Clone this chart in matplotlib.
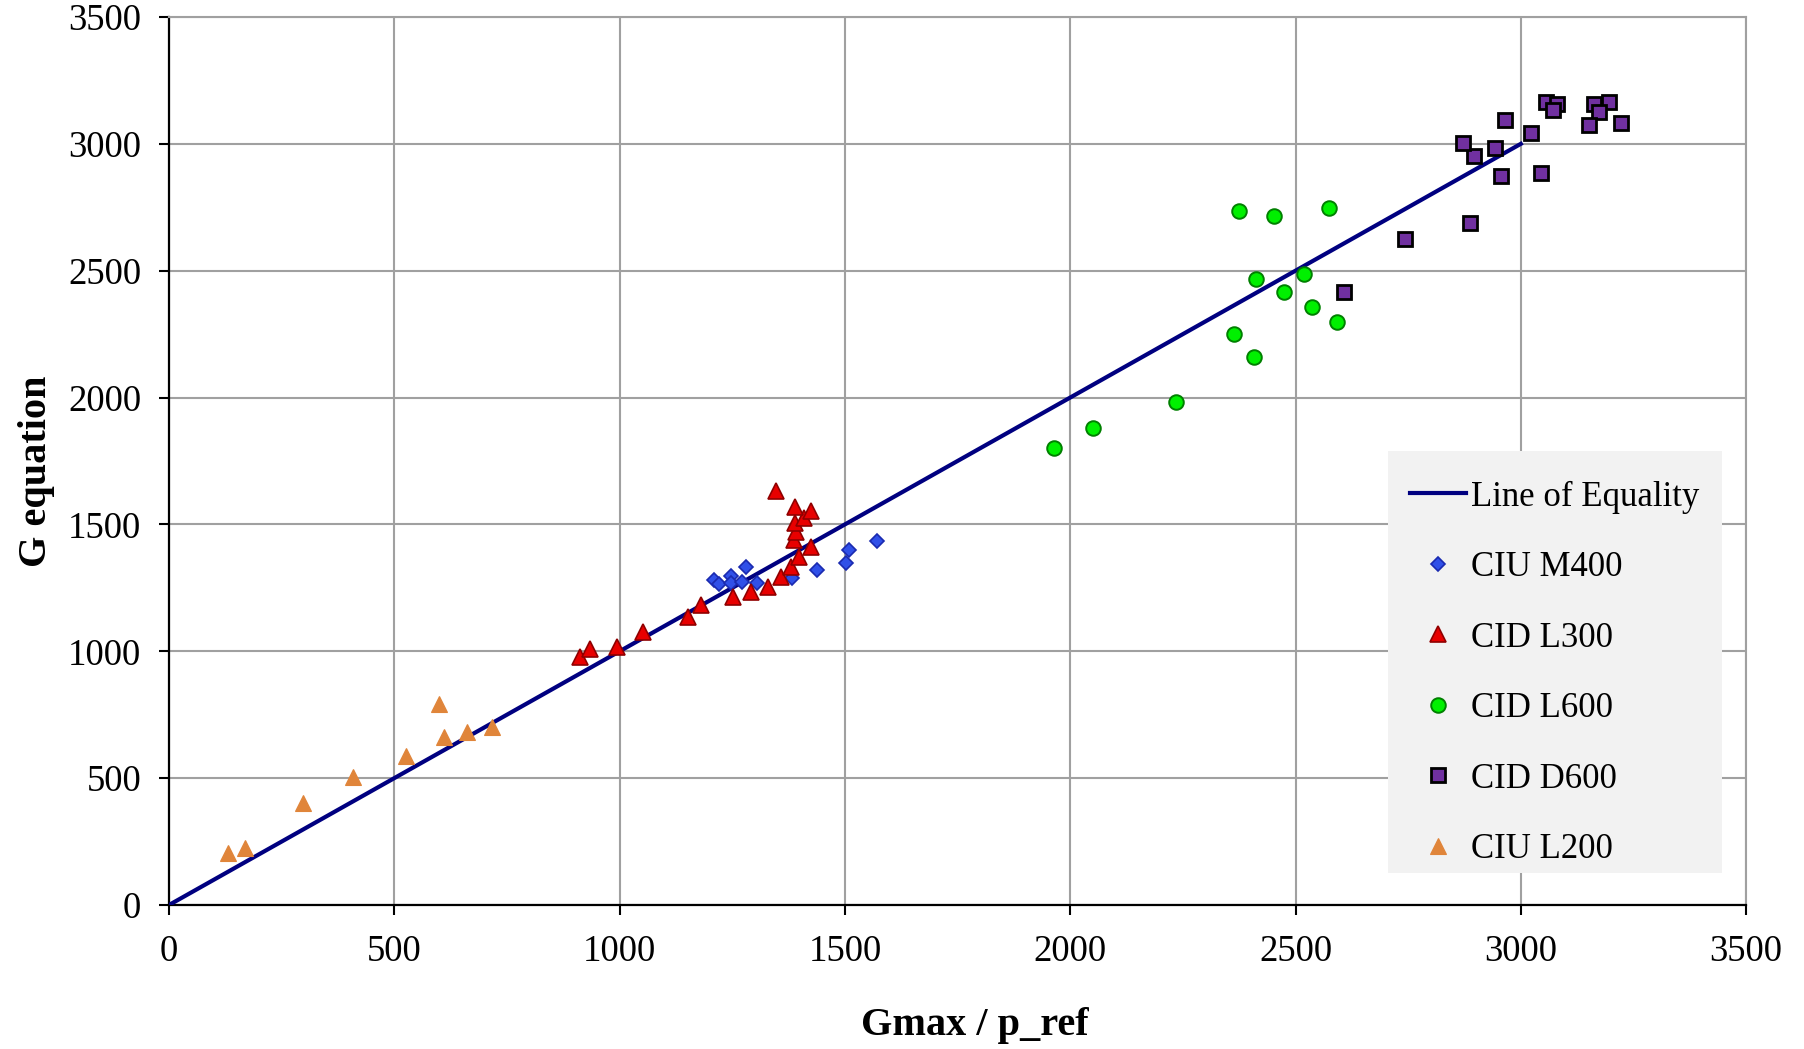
import numpy as np
import matplotlib
matplotlib.use("Agg")
import matplotlib.pyplot as plt
from matplotlib.patches import Rectangle

plt.rcParams["font.family"] = ["Liberation Serif", "DejaVu Serif"]

# line of equality
equality_x = [0, 3000]
equality_y = [0, 3000]

# CIU M400
m400_x = [1210, 1221, 1247, 1247, 1271, 1281, 1304, 1382, 1437, 1502, 1508, 1571]
m400_y = [1281, 1264, 1297, 1268, 1272, 1331, 1268, 1288, 1320, 1346, 1399, 1436]

# CID L300
l300_x = [912, 934, 994, 1052, 1151, 1181, 1252, 1291, 1329, 1358, 1380, 1397,
          1425, 1386, 1392, 1389, 1409, 1424, 1390, 1346]
l300_y = [976, 1008, 1018, 1077, 1136, 1182, 1215, 1235, 1255, 1291, 1331, 1370,
          1410, 1439, 1471, 1507, 1524, 1554, 1567, 1633]

# CID L600
l600_x = [1965, 2050, 2234, 2363, 2407, 2412, 2474, 2518, 2536, 2592, 2375, 2452, 2574]
l600_y = [1803, 1881, 1984, 2252, 2161, 2469, 2417, 2488, 2358, 2299, 2735, 2717, 2749]

# CID D600
d600_x = [2608, 2743, 2887, 2955, 3044, 2897, 2943, 2871, 3022, 2965, 3056, 3080,
          3071, 3163, 3195, 3173, 3151, 3222]
d600_y = [2417, 2625, 2687, 2873, 2886, 2952, 2985, 3005, 3044, 3094, 3164, 3156,
          3133, 3156, 3164, 3124, 3074, 3084]

# CIU L200
l200_x = [130, 168, 297, 408, 525, 599, 610, 661, 716]
l200_y = [204, 223, 401, 503, 589, 791, 661, 681, 700]

ticks = np.arange(0, 3501, 500)

fig = plt.figure(figsize=(18.04, 10.49), dpi=100)
ax = fig.add_axes([0.0937, 0.1373, 0.8742, 0.8465])

ax.plot(equality_x, equality_y, color="#000080", lw=3.0, label="Line of Equality", zorder=3)
ax.plot(m400_x, m400_y, ls="none", marker="D", ms=7.5, mfc="#3050e8", mec="#1a2ab0",
        mew=1.2, label="CIU M400", zorder=4)
ax.plot(l300_x, l300_y, ls="none", marker="^", ms=11.5, mfc="#e80000", mec="#900000",
        mew=1.2, label="CID L300", zorder=5)
ax.plot(l600_x, l600_y, ls="none", marker="o", ms=10.5, mfc="#00f000", mec="#008000",
        mew=1.4, label="CID L600", zorder=4)
ax.plot(d600_x, d600_y, ls="none", marker="s", ms=9.5, mfc="#7030a0", mec="black",
        mew=2.0, label="CID D600", zorder=4)
ax.plot(l200_x, l200_y, ls="none", marker="^", ms=11.5, mfc="#e0853a", mec="#e0853a",
        mew=0.8, label="CIU L200", zorder=4)

ax.set_xlim(0, 3500)
ax.set_ylim(0, 3500)
ax.set_xticks(ticks)
ax.set_yticks(ticks)
ax.tick_params(direction="out", length=7, width=1.5, labelsize=26.5, color="black")
ax.tick_params(axis="y", pad=13)
ax.tick_params(axis="x", pad=14)
ax.grid(True, color="#a0a0a0", lw=1.5, zorder=0)
ax.set_axisbelow(True)
for side in ["top", "right"]:
    ax.spines[side].set_color("#a0a0a0")
    ax.spines[side].set_linewidth(1.5)
for side in ["left", "bottom"]:
    ax.spines[side].set_linewidth(1.6)

ax.set_xlabel("Gmax / p_ref", fontsize=29, fontweight="bold")
ax.set_ylabel("G equation", fontsize=29, fontweight="bold")
ax.xaxis.set_label_coords(0.511, -0.136)
ax.yaxis.set_label_coords(-0.084, 0.488)
ax.xaxis.label.set_va("center")
ax.yaxis.label.set_va("center")

# grey legend panel, drawn over the grid
ax.add_patch(Rectangle((0.773, 0.036), 0.212, 0.475, transform=ax.transAxes,
                       facecolor="#f2f2f2", edgecolor="none", zorder=6))

leg = ax.legend(loc="upper left", bbox_to_anchor=(0.787, 0.478), fontsize=25,
                frameon=False, labelspacing=1.08, handlelength=1.6, handletextpad=0.15,
                borderpad=0, borderaxespad=0, markerscale=1.0)
leg.set_zorder(10)

fig.savefig("out.png", dpi=100, facecolor="white")
